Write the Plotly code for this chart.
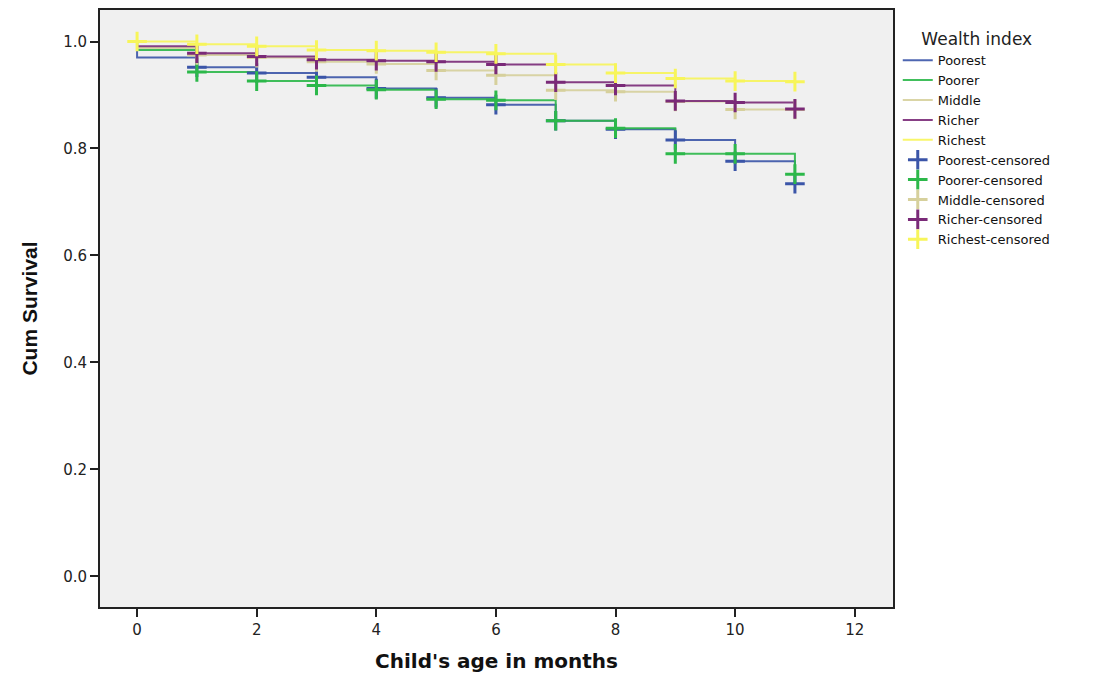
import plotly.graph_objects as go

# ---- data ----
months = [0, 0, 1, 2, 3, 4, 5, 6, 7, 8, 9, 10, 11]
poorest = [1.0, 0.970, 0.952, 0.941, 0.933, 0.912, 0.895, 0.882, 0.852, 0.836, 0.816, 0.776, 0.734]
poorer = [1.0, 0.984, 0.943, 0.926, 0.918, 0.910, 0.892, 0.890, 0.852, 0.838, 0.790, 0.790, 0.752]
middle = [1.0, 0.988, 0.975, 0.970, 0.962, 0.958, 0.946, 0.937, 0.909, 0.906, 0.888, 0.873, 0.873]
richer = [1.0, 0.991, 0.978, 0.972, 0.966, 0.964, 0.962, 0.957, 0.924, 0.918, 0.889, 0.886, 0.874]
richest = [1.0, 1.0, 0.995, 0.991, 0.984, 0.983, 0.980, 0.977, 0.957, 0.941, 0.931, 0.926, 0.925]

groups = ["Poorest", "Poorer", "Middle", "Richer", "Richest"]
series = [poorest, poorer, middle, richer, richest]
colors = ["#3B55A8", "#2CB84A", "#D6D09C", "#7A2A78", "#F7F55A"]
# censored marks: months 1..11 (plus month 0 for Richest)
censor_start = [2, 2, 2, 2, 1]

FONT = "DejaVu Sans, Liberation Sans, Arial, sans-serif"

fig = go.Figure()
for name, ys, col in zip(groups, series, colors):
    fig.add_trace(go.Scatter(
        x=months, y=ys, mode="lines", name=name, line_shape="hv",
        line=dict(color=col, width=2), opacity=0.9))

for name, ys, col, st in zip(groups, series, colors, censor_start):
    fig.add_trace(go.Scatter(
        x=months[st:], y=ys[st:], mode="markers", name=name + "-censored",
        marker=dict(symbol="cross-thin", size=14, color=col,
                    line=dict(color=col, width=3))))

fig.update_layout(
    width=1119, height=677,
    margin=dict(l=100, r=226, t=8, b=67),
    paper_bgcolor="white", plot_bgcolor="#F0F0F0",
    font=dict(family=FONT, color="#222"),
    showlegend=True,
    legend=dict(
        x=1.006, xanchor="left", y=0.978, yanchor="top",
        bgcolor="rgba(0,0,0,0)", tracegroupgap=0,
        font=dict(size=13, color="#111", family=FONT),
        title=dict(text="Wealth index", side="top center",
                   font=dict(size=17, color="#222", family=FONT)),
    ),
    xaxis=dict(
        range=[-0.62, 12.64], tickvals=[0, 2, 4, 6, 8, 10, 12],
        ticks="outside", ticklen=8, tickwidth=2, tickcolor="#222",
        showgrid=False, zeroline=False,
        showline=True, linecolor="#222", linewidth=2, mirror=True,
        tickfont=dict(size=15, color="#222", family=FONT),
        title=dict(text="<b>Child's age in months</b>", standoff=16,
                   font=dict(size=20, color="#111", family=FONT)),
    ),
    yaxis=dict(
        range=[-0.0575, 1.059], tickvals=[0, 0.2, 0.4, 0.6, 0.8, 1.0],
        tickformat=".1f",
        ticks="outside", ticklen=8, tickwidth=2, tickcolor="#222",
        showgrid=False, zeroline=False,
        showline=True, linecolor="#222", linewidth=2, mirror=True,
        tickfont=dict(size=15, color="#222", family=FONT),
        title=dict(text="<b>Cum Survival</b>", standoff=20,
                   font=dict(size=21, color="#111",
                             family="Liberation Sans Narrow, Arial Narrow, Liberation Sans")),
    ),
)

fig.write_html("out.html")
